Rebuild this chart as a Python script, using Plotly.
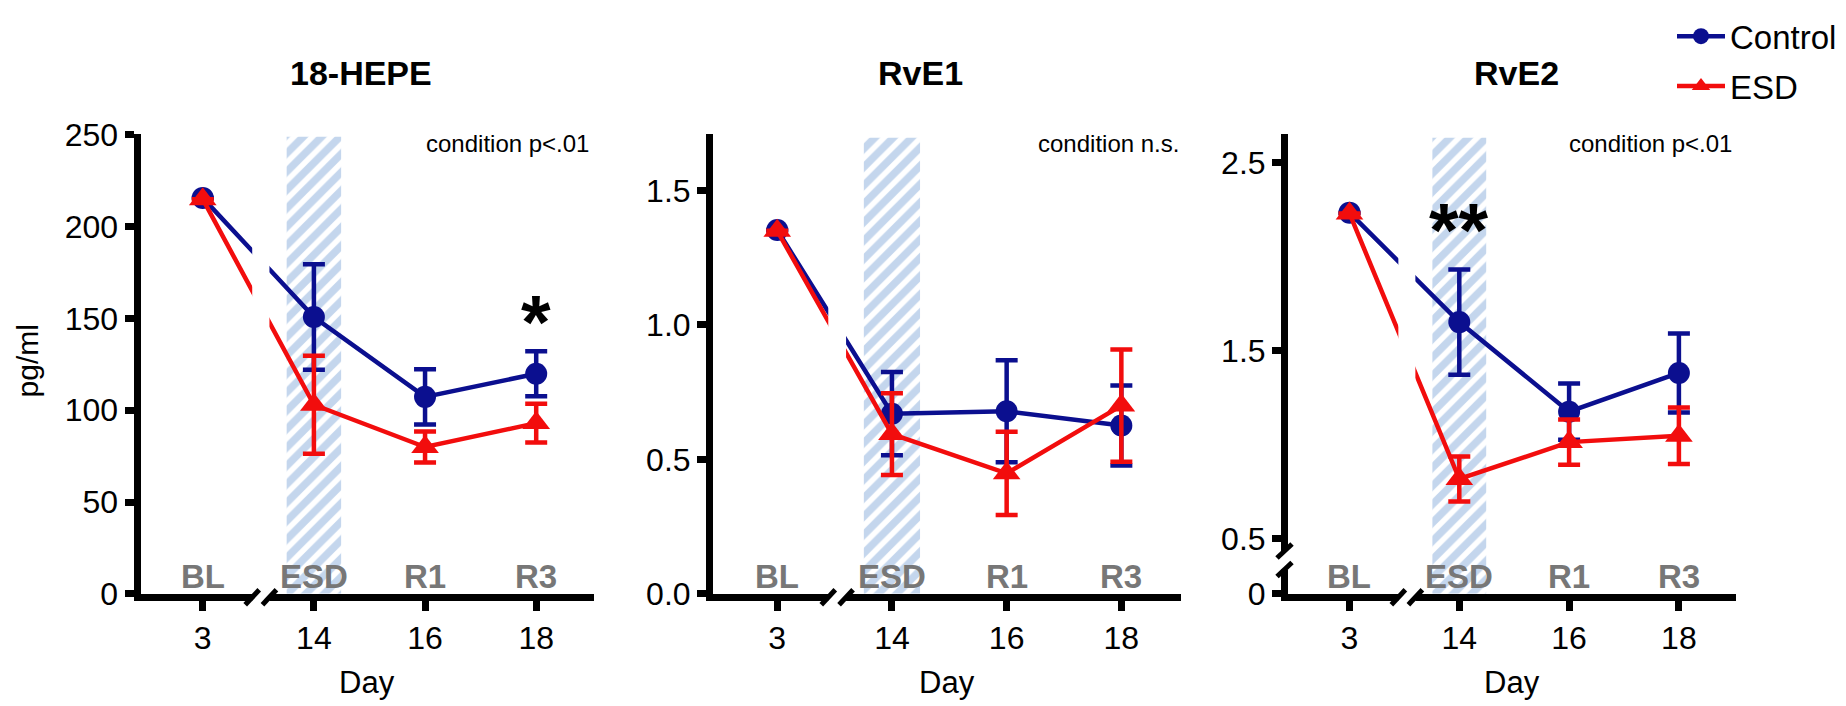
import plotly.graph_objects as go

# time points (broken x axis: BL is far from the rest)
days = ["3", "14", "16", "18"]
phases = ["BL", "ESD", "R1", "R3"]

# 18-HEPE (pg/ml), mean and SEM
hepe_ctrl = [215.7, 150.8, 107.3, 119.9]
hepe_ctrl_err = [None, 28.7, 15.0, 12.3]
hepe_esd = [215.0, 103.0, 80.0, 93.0]
hepe_esd_err = [None, 26.7, 8.5, 10.5]

# RvE1
rve1_ctrl = [1.353, 0.670, 0.679, 0.626]
rve1_ctrl_err = [None, 0.155, 0.19, 0.149]
rve1_esd = [1.350, 0.594, 0.448, 0.700]
rve1_esd_err = [None, 0.152, 0.155, 0.209]

# RvE2
rve2_ctrl = [2.234, 1.652, 1.176, 1.382]
rve2_ctrl_err = [None, 0.28, 0.15, 0.21]
rve2_esd = [2.230, 0.818, 1.014, 1.048]
rve2_esd_err = [None, 0.12, 0.12, 0.15]

titles = ["18-HEPE", "RvE1", "RvE2"]
stats = ["condition p<.01", "condition n.s.", "condition p<.01"]

W, H = 1846, 706
FONT = "Arial, Liberation Sans, sans-serif"
BLUE = "#0b0f8f"
RED = "#f20d0d"
HATCH = "#8aaedb"
TOP, BOTTOM = 114.7, 598.5


def px(x):
    return x / W


def py(y):
    return 1 - y / H


panels = [
    dict(ctrl=hepe_ctrl, ctrl_err=hepe_ctrl_err, esd=hepe_esd, esd_err=hepe_esd_err,
         xdom=(132.5, 586), yrange=[0, 250.5], shade_top=249,
         tickvals=[0, 50, 100, 150, 200, 250], ticktext=["0", "50", "100", "150", "200", "250"],
         title_x=353, stat_shift=-3),
    dict(ctrl=rve1_ctrl, ctrl_err=rve1_ctrl_err, esd=rve1_esd, esd_err=rve1_esd_err,
         xdom=(705, 1173), yrange=[0, 1.71], shade_top=1.696,
         tickvals=[0, 0.5, 1.0, 1.5], ticktext=["0.0", "0.5", "1.0", "1.5"],
         title_x=912, stat_shift=0),
    dict(ctrl=rve2_ctrl, ctrl_err=rve2_ctrl_err, esd=rve2_esd, esd_err=rve2_esd_err,
         xdom=(1280, 1728), yrange=[0.2075, 2.652], shade_top=2.632,
         tickvals=[0.2075, 0.5, 1.5, 2.5], ticktext=["0", "0.5", "1.5", "2.5"],
         title_x=1508, stat_shift=-2),
]

fig = go.Figure()
shapes = []
annotations = []
layout = {}

for i, p in enumerate(panels):
    n = "" if i == 0 else str(i + 1)
    xa, ya = "x" + n, "y" + n

    # ESD period shading
    fig.add_trace(go.Bar(
        x=["14"], y=[p["shade_top"] - p["yrange"][0]], base=[p["yrange"][0]], width=0.49,
        marker=dict(color=HATCH, line=dict(width=0),
                    pattern=dict(shape="/", fgcolor=HATCH, bgcolor="white", size=13, solidity=0.58)),
        xaxis=xa, yaxis=ya, showlegend=False, hoverinfo="skip"))

    for name, vals, errs, color, symbol, size in [
        ("Control", p["ctrl"], p["ctrl_err"], BLUE, "circle", 22),
        ("ESD", p["esd"], p["esd_err"], RED, "triangle-up", 24),
    ]:
        fig.add_trace(go.Scatter(
            x=days, y=vals, mode="lines+markers", name=name,
            line=dict(color=color, width=4.5),
            marker=dict(symbol=symbol, size=size, color=color),
            error_y=dict(type="data", array=errs, color=color, thickness=4.5, width=11),
            xaxis=xa, yaxis=ya, showlegend=(i == 0), legendgroup=name))

    axis_common = dict(showline=True, linewidth=7, linecolor="black", ticks="outside",
                       tickwidth=7, tickcolor="black", showgrid=False, zeroline=False,
                       tickfont=dict(family=FONT, size=32, color="black"))
    layout["xaxis" + n] = dict(axis_common, domain=[px(p["xdom"][0]), px(p["xdom"][1])],
                               anchor=ya, type="category", categoryorder="array",
                               categoryarray=days, range=[-0.56, 3.52], ticklen=10,
                               ticklabelstandoff=0)
    layout["yaxis" + n] = dict(axis_common, domain=[py(BOTTOM), py(TOP)], anchor=xa,
                               range=p["yrange"], tickvals=p["tickvals"], ticktext=p["ticktext"],
                               ticklen=9, ticklabelstandoff=0)

    # gap in the lines and x axis between BL and ESD, with break marks
    shapes.append(dict(type="rect", xref=xa, yref=ya + " domain", x0=0.445, x1=0.60,
                       y0=-0.04, y1=1.0, fillcolor="white", line=dict(width=0), layer="above"))
    for xb in (0.445, 0.60):
        shapes.append(dict(type="line", xref=xa, yref=ya + " domain", xsizemode="pixel",
                           xanchor=xb, x0=-7, x1=7, ysizemode="pixel", yanchor=0, y0=-11, y1=4,
                           line=dict(color="black", width=5), layer="above"))

    annotations.append(dict(text="<b>%s</b>" % titles[i], xref="paper", yref="paper",
                            x=px(p["title_x"]), y=py(51), xanchor="center", yanchor="middle",
                            showarrow=False, font=dict(family=FONT, size=34, color="black")))
    annotations.append(dict(text=stats[i], xref=xa + " domain", yref=ya + " domain",
                            x=1, y=1.0, xanchor="right", yanchor="top", showarrow=False,
                            xshift=p["stat_shift"], yshift=6,
                            font=dict(family=FONT, size=24, color="black")))
    annotations.append(dict(text="Day", xref=xa + " domain", yref="paper", x=0.5, y=py(692),
                            xanchor="center", yanchor="middle", showarrow=False,
                            font=dict(family=FONT, size=31, color="black")))
    for k, ph in enumerate(phases):
        annotations.append(dict(text="<b>%s</b>" % ph, xref=xa, yref=ya + " domain", x=k, y=0,
                                xanchor="center", yanchor="bottom", showarrow=False, yshift=-3,
                                font=dict(family=FONT, size=33, color="#777777")))

# broken y axis in the RvE2 panel
shapes.append(dict(type="rect", xref="x3 domain", yref="y3", xsizemode="pixel", xanchor=0,
                   x0=-11, x1=1, y0=0.337, y1=0.435, fillcolor="white", line=dict(width=0),
                   layer="above"))
for yb in (0.337, 0.435):
    shapes.append(dict(type="line", xref="x3 domain", yref="y3", xsizemode="pixel", xanchor=0,
                       x0=-11, x1=4, ysizemode="pixel", yanchor=yb, y0=-7, y1=7,
                       line=dict(color="black", width=5), layer="above"))

# significance marks
annotations.append(dict(text="<b>*</b>", xref="x", yref="y", x=3, y=155, showarrow=False,
                        xanchor="center", yanchor="middle", yshift=-12,
                        font=dict(family=FONT, size=76, color="black")))
annotations.append(dict(text="<b>**</b>", xref="x3", yref="y3", x=1, y=2.209, showarrow=False,
                        xanchor="center", yanchor="middle", yshift=-12,
                        font=dict(family=FONT, size=76, color="black")))
annotations.append(dict(text="pg/ml", xref="paper", yref="paper", x=px(19), y=py(354),
                        xanchor="center", yanchor="middle", textangle=-90, showarrow=False,
                        font=dict(family=FONT, size=30, color="black")))

fig.update_layout(
    width=W, height=H, margin=dict(l=0, r=0, t=0, b=0),
    paper_bgcolor="white", plot_bgcolor="white",
    shapes=shapes, annotations=annotations,
    legend=dict(x=px(1664), y=1.025, xanchor="left", yanchor="top",
                font=dict(family=FONT, size=33, color="black"),
                itemwidth=48, tracegroupgap=4, bgcolor="rgba(0,0,0,0)"),
    **layout)

fig.write_html("out.html")
